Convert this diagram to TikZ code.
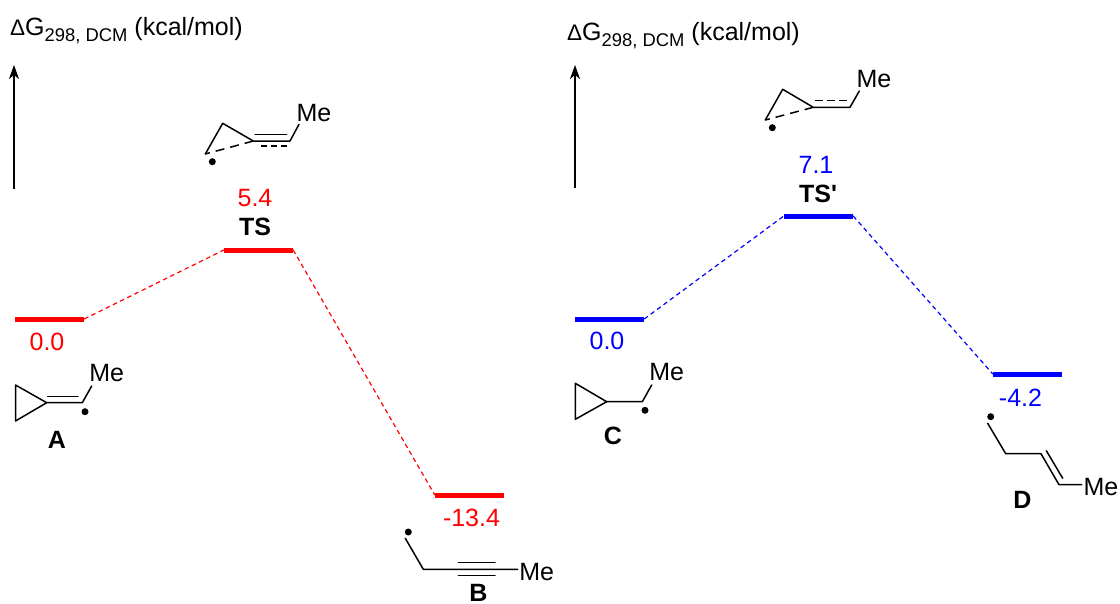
\documentclass[tikz,border=0pt]{standalone}
\usepackage{fontspec}
\setmainfont{Liberation Sans}
\usetikzlibrary{arrows.meta}
\definecolor{pred}{RGB}{255,0,0}
\definecolor{pblue}{RGB}{0,0,255}
\tikzset{
  txt/.style={inner sep=0pt,font=\fontsize{25}{28}\selectfont},
  boldtxt/.style={inner sep=0pt,font=\fontsize{25}{28}\selectfont\bfseries},
  lvl/.style={inner sep=0pt,minimum width=69pt,minimum height=5pt,fill=#1,draw=none},
  link/.style={draw=#1,line width=1.2pt,dash pattern=on 4.5pt off 3.5pt},
  bond/.style={line width=1.5pt,line cap=round,line join=round},
  dbond/.style={line width=1.5pt,dash pattern=on 9pt off 6pt},
  radical/.style={circle,fill=black,inner sep=0pt,minimum size=7pt},
  axisarrow/.style={line width=1.6pt,-{Stealth[length=14pt,width=10pt,inset=4pt]}}
}
\begin{document}
\begin{tikzpicture}[x=1pt,y=-1pt]
\useasboundingbox (0,0) rectangle (1120,603);
% axes
\node[txt,anchor=base west] (axl) at (10,35) {{\fontsize{22.5}{26}\selectfont Δ}G\raisebox{-6pt}{\fontsize{18.4}{22}\selectfont 298, DCM} (kcal/mol)};
\node[txt,anchor=base west] (axr) at (567,40) {{\fontsize{22.5}{26}\selectfont Δ}G\raisebox{-6pt}{\fontsize{18.4}{22}\selectfont 298, DCM} (kcal/mol)};
\coordinate (a1s) at (14,189); \coordinate (a1e) at (14,65);
\coordinate (a2s) at (575,188); \coordinate (a2e) at (575,65);
\draw[axisarrow] (a1s) -- (a1e);
\draw[axisarrow] (a2s) -- (a2e);
% levels
\node[lvl=pred] (LA) at (49.5,319) {};
\node[lvl=pred] (LTS) at (258.5,250) {};
\node[lvl=pred] (LB) at (469.5,495) {};
\node[lvl=pblue] (LC) at (609.5,319) {};
\node[lvl=pblue] (LTSp) at (818.5,216) {};
\node[lvl=pblue] (LD) at (1027.5,374) {};
\draw[link=pred] (LA.east) -- (LTS.west);
\draw[link=pred] (LTS.east) -- (LB.west);
\draw[link=pblue] (LC.east) -- (LTSp.west);
\draw[link=pblue] (LTSp.east) -- (LD.west);
% energies
\node[txt,text=pred] (eA) at (47,342) {0.0};
\node[txt,text=pred] (eTS) at (255,198) {5.4};
\node[txt,text=pred] (eB) at (471.5,518) {-13.4};
\node[txt,text=pblue] (eC) at (607,341) {0.0};
\node[txt,text=pblue] (eTSp) at (816,165) {7.1};
\node[txt,text=pblue] (eD) at (1020.5,398) {-4.2};
% names
\node[boldtxt] (nTS) at (255,227) {TS};
\node[boldtxt] (nTSp) at (818,194) {TS\textquotesingle};
\node[boldtxt] (nA) at (57,440) {A};
\node[boldtxt] (nB) at (478.5,592.5) {B};
\node[boldtxt] (nC) at (613,436) {C};
\node[boldtxt] (nD) at (1022.5,500) {D};
% A
\draw[bond] (46.7,402.7) -- (15.5,385) -- (15.5,421) -- cycle;
\draw[bond] (46.7,402.7) -- (82.3,402.7) -- (91.7,386);
\draw[bond] (47.7,396.5) -- (78,396.5);
\node[txt] (meA) at (106.7,373) {Me};
\node[radical] (rA) at (85,411.7) {};
% TS
\draw[bond] (205.3,154) -- (222.7,123.3) -- (253.3,141) -- (290,141) -- (299,124.3);
\draw[dbond] (253.3,141) -- (205.3,154);
\draw[bond] (255,134.3) -- (286.7,134.3);
\draw[line width=1.5pt,dash pattern=on 6pt off 4pt] (287,146) -- (259,146);
\node[txt] (meTS) at (314,112.7) {Me};
\node[radical] (rTS) at (212.3,161.7) {};
% TS'
\draw[bond] (765.3,120) -- (782.7,89.3) -- (813.3,107.3) -- (850,107.3) -- (859.3,91);
\draw[dbond] (813.3,107.3) -- (765.3,120);
\draw[line width=1.5pt,dash pattern=on 8pt off 4pt] (815,100.7) -- (846.7,100.7);
\node[txt] (meTSp) at (874,79.3) {Me};
\node[radical] (rTSp) at (772.3,127.7) {};
% B
\draw[bond] (405.3,538.3) -- (423.3,569.3) -- (517.7,569.3);
\draw[bond] (458.3,562.7) -- (495,562.7);
\draw[bond] (458.3,575.7) -- (495,575.7);
\node[txt] (meB) at (536.7,571.7) {Me};
\node[radical] (rB) at (408.3,532) {};
% C
\draw[bond] (606.7,401.7) -- (575.3,383.3) -- (575.3,419.3) -- cycle;
\draw[bond] (606.7,401.7) -- (642.3,401.7) -- (651.7,385);
\node[txt] (meC) at (666.7,372) {Me};
\node[radical] (rC) at (645,410.3) {};
% D
\draw[bond] (987.7,423.3) -- (1005.7,453.7) -- (1041,453.7) -- (1059,484.7) -- (1081.7,484.7);
\draw[bond] (1046.3,450.7) -- (1062.7,478.3);
\node[txt] (meD) at (1101,486.7) {Me};
\node[radical] (rD) at (990.7,416.7) {};
\end{tikzpicture}
\end{document}
